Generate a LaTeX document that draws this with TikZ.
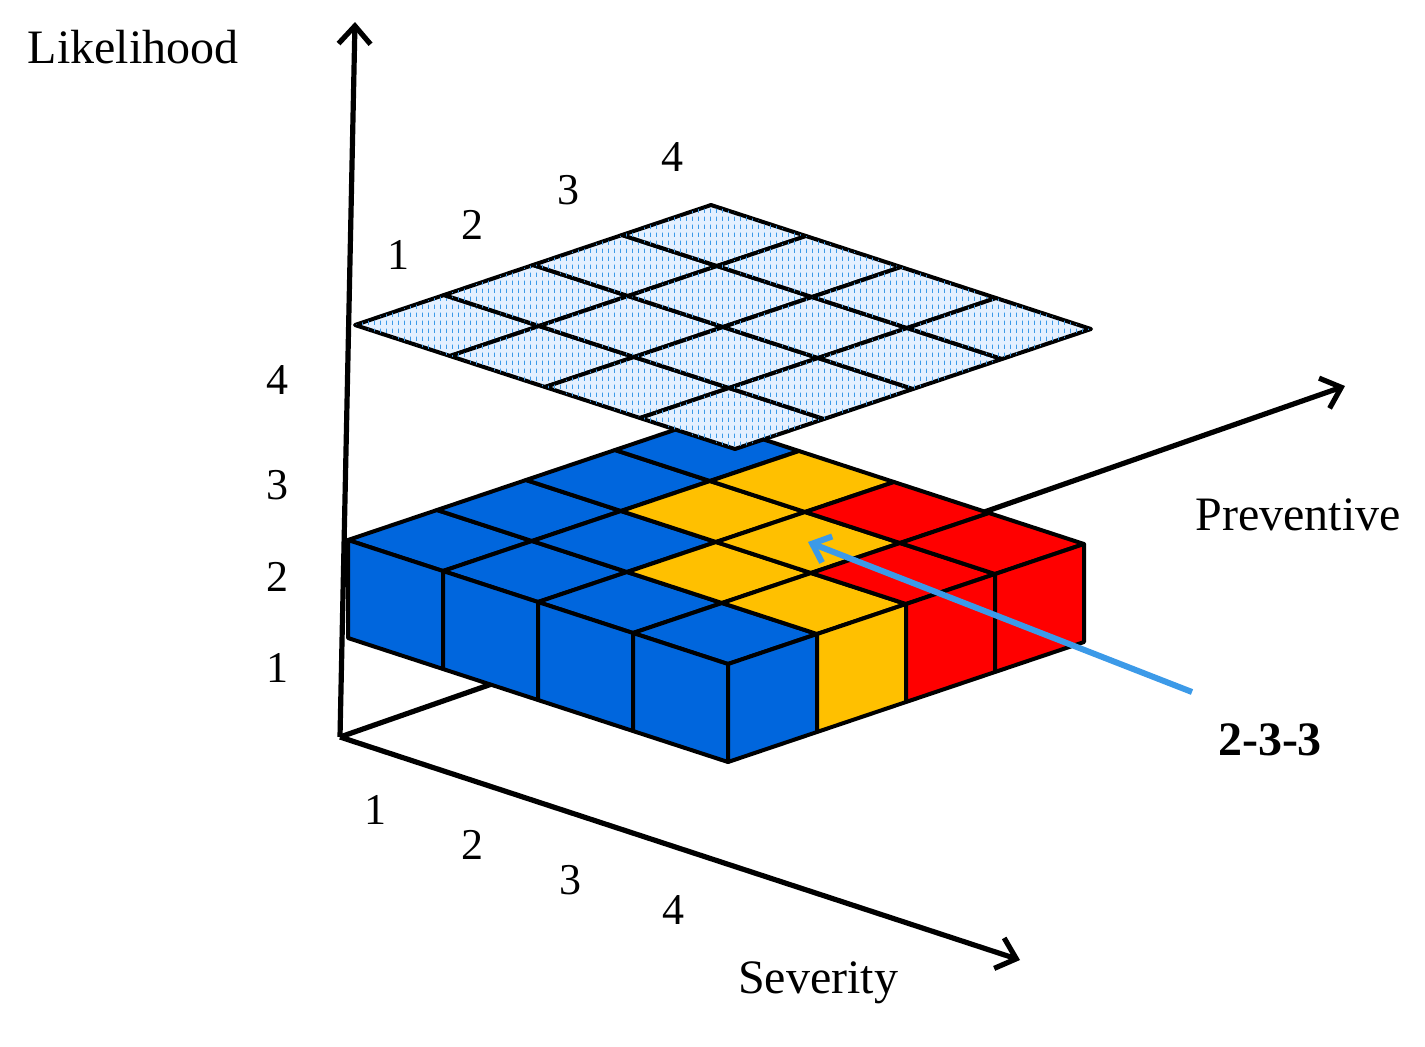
\documentclass[tikz,border=0pt]{standalone}
\usepackage{fontspec}
\setmainfont{Liberation Serif}
\usetikzlibrary{calc,arrows.meta,patterns}
\definecolor{cblue}{HTML}{0066DD}
\definecolor{cyel}{HTML}{FFC000}
\definecolor{cred}{HTML}{FF0000}
\definecolor{cpale}{HTML}{E4F0FF}
\definecolor{carrow}{HTML}{3C9AE8}
\pgfdeclarepatternformonly{vdash}{\pgfqpoint{0pt}{0pt}}{\pgfqpoint{3pt}{4pt}}{\pgfqpoint{3pt}{4pt}}{%
  \pgfsetlinewidth{0.45pt}\pgfpathmoveto{\pgfqpoint{1.5pt}{0.6pt}}\pgfpathlineto{\pgfqpoint{1.5pt}{3.0pt}}\pgfusepath{stroke}}
\tikzset{
  axis/.style={line width=2.6pt,-{Straight Barb[length=9pt,width=16pt,line width=2.6pt]}},
  cell/.style={draw=black,line width=2pt,line join=round},
  lab/.style={font=\fontsize{24}{28}\selectfont},
  num/.style={font=\fontsize{22}{26}\selectfont}
}
\begin{document}
\begin{tikzpicture}[x=0.5pt,y=-0.5pt]
  \useasboundingbox (0,0) rectangle (1425,1046);
  % axes
  \coordinate (org) at (340,737);
  \coordinate (ltip) at (355,22);
  \coordinate (stip) at (1020,960);
  \coordinate (ptip) at (1345,386);
  \draw[axis] (org) -- (ltip);
  \draw[axis] (org) -- (stip);
  \draw[axis] (org) -- (ptip);
  % box geometry
  \coordinate (B) at (348,540);
  \coordinate (s) at (95,31);
  \coordinate (p) at (89,-30);
  \coordinate (h) at (0,98);
  \coordinate (P) at (355,325);
  % top faces
  \foreach \i/\j/\c in {0/0/cblue,0/1/cblue,0/2/cblue,0/3/cblue,
                        1/0/cblue,1/1/cblue,1/2/cyel,1/3/cyel,
                        2/0/cblue,2/1/cyel,2/2/cyel,2/3/cred,
                        3/0/cblue,3/1/cyel,3/2/cred,3/3/cred}
    \filldraw[cell,fill=\c] ($(B)+\i*(s)+\j*(p)$) -- ($(B)+\i*(s)+\i*(0,0)+\j*(p)+(s)$)
      -- ($(B)+\i*(s)+\j*(p)+(s)+(p)$) -- ($(B)+\i*(s)+\j*(p)+(p)$) -- cycle;
  % front faces
  \foreach \i in {0,...,3}
    \filldraw[cell,fill=cblue] ($(B)+\i*(s)$) -- ($(B)+\i*(s)+(s)$)
      -- ($(B)+\i*(s)+(s)+(h)$) -- ($(B)+\i*(s)+(h)$) -- cycle;
  % right faces
  \foreach \j/\c in {0/cblue,1/cyel,2/cred,3/cred}
    \filldraw[cell,fill=\c] ($(B)+4*(s)+\j*(p)$) -- ($(B)+4*(s)+\j*(p)+(p)$)
      -- ($(B)+4*(s)+\j*(p)+(p)+(h)$) -- ($(B)+4*(s)+\j*(p)+(h)$) -- cycle;
  % upper plane
  \foreach \i in {0,...,3}
    \foreach \j in {0,...,3}
      \filldraw[cell,fill=cpale,postaction={pattern=vdash,pattern color=carrow}]
        ($(P)+\i*(s)+\j*(p)$) -- ($(P)+\i*(s)+\j*(p)+(s)$)
        -- ($(P)+\i*(s)+\j*(p)+(s)+(p)$) -- ($(P)+\i*(s)+\j*(p)+(p)$) -- cycle;
  % labels
  \node[lab] (likel) at (133,47) {Likelihood};
  \node[lab] (prev) at (1298,515) {Preventive};
  \node[lab] (sev) at (818,983) {Severity};
  \foreach \t/\x/\y in {1/375/810,2/472/845,3/570/880,4/673/910}
    \node[num] (s\t) at (\x,\y) {\t};
  \foreach \t/\y in {1/668,2/577,3/485,4/380}
    \node[num] (l\t) at (277,\y) {\t};
  \foreach \t/\x/\y in {1/398/255,2/472/225,3/568/190,4/672/157}
    \node[num] (p\t) at (\x,\y) {\t};
  \node[lab,font=\fontsize{24}{28}\selectfont\bfseries] (code) at (1270,740) {2-3-3};
  \coordinate (astart) at (1192,692);
  \coordinate (aend) at (808,542);
  \draw[carrow,line width=3pt,-{Straight Barb[length=8pt,width=14pt,line width=3pt]}] (astart) -- (aend);
\end{tikzpicture}
\end{document}
